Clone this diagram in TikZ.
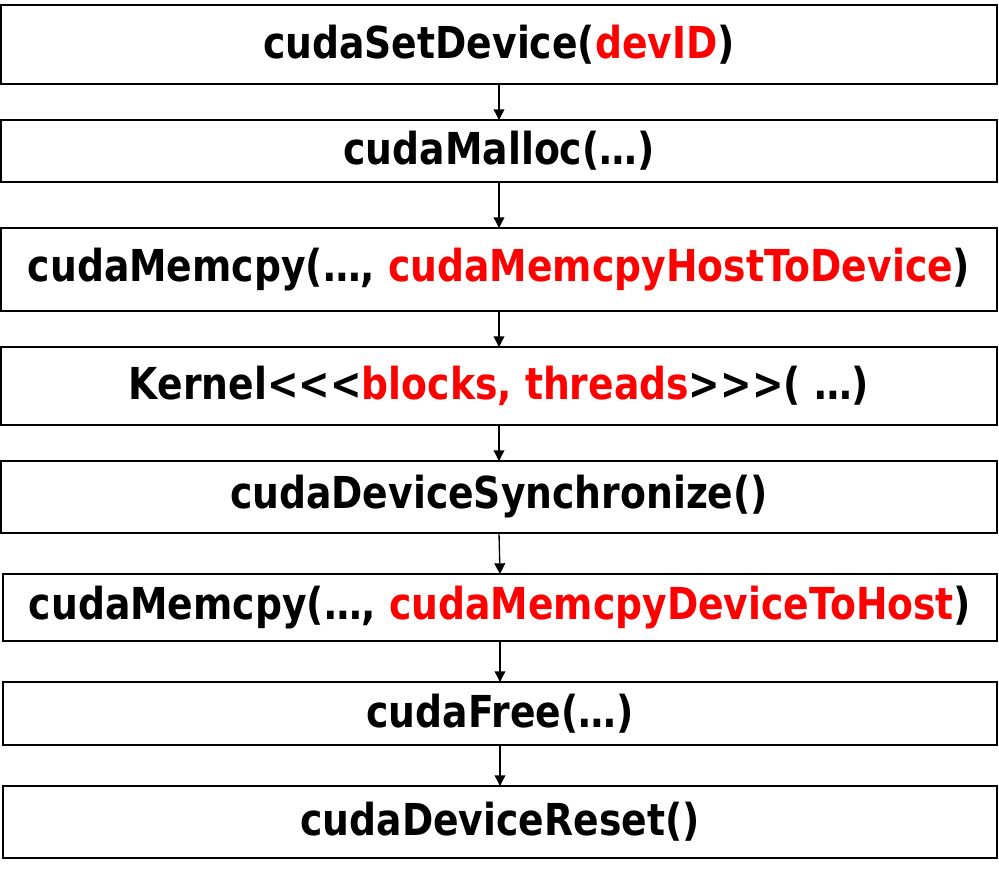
\documentclass[tikz,border=0pt]{standalone}
\usepackage{fontspec}
\usepackage{tikz}
\usetikzlibrary{arrows.meta}
\newfontfamily\callfont{DejaVu Sans}[FakeStretch=0.857]
\definecolor{cudared}{rgb}{1, 0, 0}
\tikzset{call/.style = {draw, line width=1.5pt, inner sep=0pt, outer sep=0pt,
                        minimum width=#1, font=\callfont\bfseries\fontsize{33}{36}\selectfont}}
\tikzset{flow/.style = {-{Triangle[length=8pt, width=8pt]}, line width=1pt}}
\newcommand{\hl}[1]{\textcolor{cudared}{#1}}

\begin{document}
\begin{tikzpicture}[x=0.75pt, y=-0.75pt]
      \useasboundingbox (0, 0) rectangle (999, 869);
      \node [call=747pt, minimum height=59.25pt] (setdev) at (499, 44.5) {cudaSetDevice(\hl{devID})};
      \node [call=747pt, minimum height=46.5pt] (malloc) at (499, 151) {cudaMalloc(\dots)};
      \node [call=747pt, minimum height=62.25pt] (htod) at (499, 269.5) {cudaMemcpy(\dots, \hl{cudaMemcpyHostToDevice})};
      \node [call=747pt, minimum height=58.5pt] (kernel) at (499, 386) {Kernel<{}<{}<\hl{blocks, threads}>{}>{}>( \dots)};
      \node [call=747pt, minimum height=54pt] (sync) at (499, 497) {cudaDeviceSynchronize()};
      \node [call=745.5pt, minimum height=50.25pt] (dtoh) at (500, 607.5) {cudaMemcpy(\dots, \hl{cudaMemcpyDeviceToHost})};
      \node [call=745.5pt, minimum height=47.25pt] (free) at (500, 713.5) {cudaFree(\dots)};
      \node [call=745.5pt, minimum height=54pt] (reset) at (500, 822) {cudaDeviceReset()};
      \foreach \a/\b in {setdev/malloc, malloc/htod, htod/kernel, kernel/sync,
                         sync/dtoh, dtoh/free, free/reset}
        \draw [flow] (\a.south) -- (\b.north);
    \end{tikzpicture}
\end{document}
